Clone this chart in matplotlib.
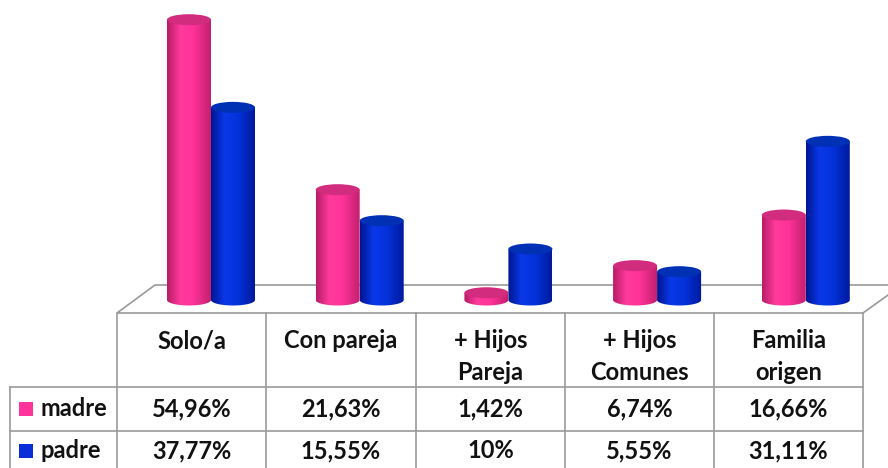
import numpy as np
import matplotlib
matplotlib.use('Agg')
import matplotlib.pyplot as plt
from matplotlib.patches import Ellipse, PathPatch, Rectangle, Polygon
from matplotlib.path import Path
from matplotlib.colors import LinearSegmentedColormap

# data
categories = [["Solo/a"], ["Con pareja"], ["+ Hijos", "Pareja"],
              ["+ Hijos", "Comunes"], ["Familia", "origen"]]
madre = [54.96, 21.63, 1.42, 6.74, 16.66]
padre = [37.77, 15.55, 10.0, 5.55, 31.11]
madre_txt = ["54,96%", "21,63%", "1,42%", "6,74%", "16,66%"]
padre_txt = ["37,77%", "15,55%", "10%", "5,55%", "31,11%"]
series = ["madre", "padre"]

pink_cm = LinearSegmentedColormap.from_list(
    "pk", [(0, "#b81c66"), (0.3, "#ff3a9c"), (0.6, "#ff3399"), (1, "#c4206f")])
blue_cm = LinearSegmentedColormap.from_list(
    "bl", [(0, "#001590"), (0.3, "#0a38e8"), (0.6, "#0433dc"), (1, "#001a9e")])
pink, blue = "#ff3399", "#0a2fd8"
pink_top, blue_top = "#d12c7e", "#0030b4"
grid_c = "#9a9a9a"
fs = 17
font = dict(family=["Lato", "DejaVu Sans"], fontweight="bold", color="#111111")

fig = plt.figure(figsize=(8.88, 4.68), dpi=100)

# background layer in pixel coords: floor + table
bg = fig.add_axes([0, 0, 1, 1])
bg.set_xlim(0, 888)
bg.set_ylim(468, 0)
bg.axis('off')

floor = Polygon([(117, 313), (155, 285), (902, 285), (863, 313)], closed=True,
                facecolor="white", edgecolor=grid_c, lw=1.2)
bg.add_patch(floor)

cols = [117, 266, 416, 565, 714, 863]
for x in cols:
    bg.plot([x, x], [313, 470], color=grid_c, lw=1.2)
bg.plot([10, 10], [387, 470], color=grid_c, lw=1.2)
for y in [387, 431]:
    bg.plot([10, 863], [y, y], color=grid_c, lw=1.2)

for i, lab in enumerate(categories):
    cx = (cols[i] + cols[i + 1]) / 2
    for j, line in enumerate(lab):
        bg.text(cx, 341 + 32 * j, line, ha='center', va='center', fontsize=fs, **font)
    bg.text(cx, 409, madre_txt[i], ha='center', va='center', fontsize=fs, **font)
    bg.text(cx, 451, padre_txt[i], ha='center', va='center', fontsize=fs, **font)

bg.add_patch(Rectangle((19, 402), 14, 14, facecolor=pink, edgecolor='none'))
bg.add_patch(Rectangle((19, 444), 14, 14, facecolor=blue, edgecolor='none'))
bg.text(40, 409, series[0], ha='left', va='center', fontsize=fs, **font)
bg.text(40, 451, series[1], ha='left', va='center', fontsize=fs, **font)

# bars layer in data coords
ax = fig.add_axes([0, 0, 1, 1], zorder=2)
ax.patch.set_alpha(0)
ax.axis('off')

step = 148.7   # px per category
x0 = 211       # px of first category
base = 300     # px of bar base
ppu = 5.1      # px per percent
w = 44 / step
eh = 11 / ppu


def cylinder(xc, v, cmap, topc, z):
    xl, xr = xc - w / 2, xc + w / 2
    t = np.linspace(np.pi, 2 * np.pi, 50)
    verts = np.column_stack([xc + w / 2 * np.cos(t), eh / 2 * np.sin(t)])
    verts = np.vstack([verts, [[xr, v], [xl, v], [xl, 0]]])
    clip = PathPatch(Path(verts), facecolor='none', edgecolor='none')
    ax.add_patch(clip)
    grad = np.linspace(0, 1, 64).reshape(1, -1)
    im = ax.imshow(grad, cmap=cmap, extent=(xl, xr, -eh / 2, v),
                   aspect='auto', origin='lower', zorder=z)
    im.set_clip_path(clip)
    ax.add_patch(Ellipse((xc, v), w, eh, facecolor=topc, edgecolor='none', zorder=z + 0.5))


for i in range(len(categories)):
    cylinder(i - w / 2, madre[i], pink_cm, pink_top, 3 + i * 2)
    cylinder(i + w / 2, padre[i], blue_cm, blue_top, 4 + i * 2)

ax.set_xlim(-x0 / step, (888 - x0) / step)
ax.set_ylim(-(468 - base) / ppu, base / ppu)

fig.savefig("out.png", dpi=100)
